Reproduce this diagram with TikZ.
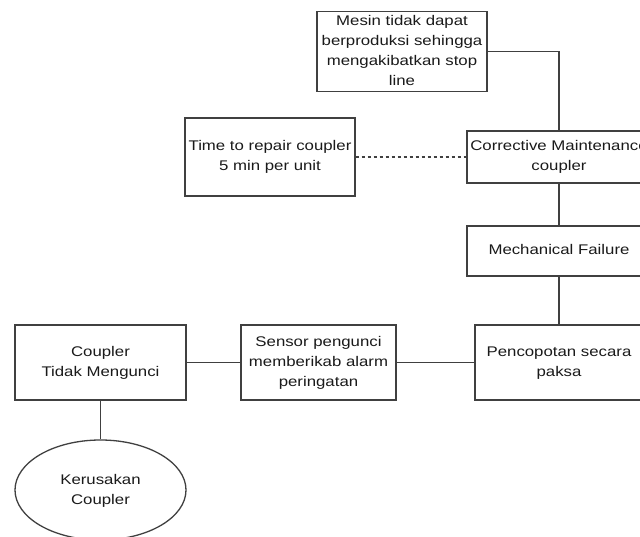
\documentclass[tikz,border=0pt]{standalone}
\usepackage{fontspec}
\setmainfont{Liberation Sans}
\usetikzlibrary{shapes.geometric}
\definecolor{lc}{HTML}{404040}
\definecolor{tc}{HTML}{1A1A1A}
\newcommand{\lbl}[1]{\scalebox{1.2}[1]{\begin{tabular}{@{}c@{}}#1\end{tabular}}}
\begin{document}
\begin{tikzpicture}[x=1pt,y=-1pt,
  box/.style={draw=lc, line width=1.3pt, fill=white, inner sep=0pt, text=tc,
    font=\fontsize{14}{20}\selectfont},
  oval/.style={box, ellipse},
  conn/.style={draw=lc, line width=1.3pt},
  dotconn/.style={conn, dash pattern=on 3pt off 3pt}]
\clip (0,0) rectangle (640,537);
\useasboundingbox (0,0) rectangle (640,537);
\fill[white] (0,0) rectangle (640,537);

\node[box, minimum width=170pt, minimum height=77pt] (mesin) at (402,51.5)
  {\lbl{Mesin tidak dapat\\berproduksi sehingga\\mengakibatkan stop\\line}};
\node[box, minimum width=184pt, minimum height=52pt] (corr) at (559,157)
  {\lbl{Corrective Maintenance\\coupler}};
\node[box, minimum width=170pt, minimum height=78pt] (time) at (270,157)
  {\lbl{Time to repair coupler\\5 min per unit}};
\node[box, minimum width=184pt, minimum height=50pt] (mech) at (559,251)
  {\lbl{Mechanical Failure}};
\node[box, minimum width=168pt, minimum height=75pt] (pen) at (559,362.5)
  {\lbl{Pencopotan secara\\paksa}};
\node[box, minimum width=155pt, minimum height=75pt] (sensor) at (318.5,362.5)
  {\lbl{Sensor pengunci\\memberikab alarm\\peringatan}};
\node[box, minimum width=171pt, minimum height=75pt] (coupler) at (100.5,362.5)
  {\lbl{Coupler\\Tidak Mengunci}};
\node[oval, minimum width=171pt, minimum height=100pt] (ker) at (100.5,490)
  {\lbl{Kerusakan\\Coupler}};

\draw[conn] (mesin.east) -| (corr.north);
\draw[dotconn] (time.east) -- (corr.west);
\draw[conn] (corr.south) -- (mech.north);
\draw[conn] (mech.south) -- (pen.north);
\draw[conn] (pen.west) -- (sensor.east);
\draw[conn] (sensor.west) -- (coupler.east);
\draw[conn] (coupler.south) -- (ker.north);
\end{tikzpicture}
\end{document}
